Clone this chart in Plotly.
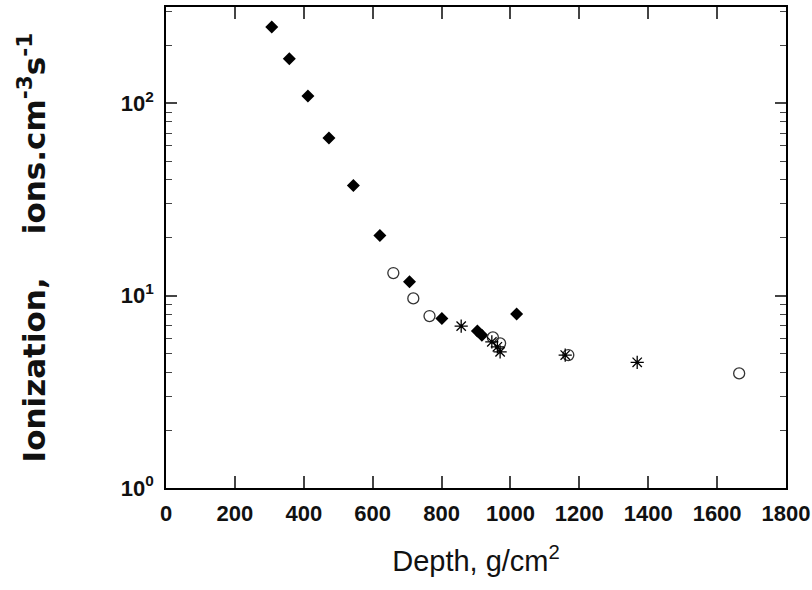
import plotly.graph_objects as go

# Filled diamonds
dia_x = [307, 358, 412, 473, 544, 621, 707, 801, 904, 917, 1018]
dia_y = [249, 170, 109, 66, 37.4, 20.5, 11.8, 7.61, 6.54, 6.23, 8.02]

# Open circles
circ_x = [660, 718, 765, 949, 970, 1168, 1664]
circ_y = [13.1, 9.67, 7.83, 6.06, 5.65, 4.91, 3.94]

# Asterisks
star_x = [857, 946, 962, 970, 1159, 1368]
star_y = [6.94, 5.75, 5.42, 5.1, 4.91, 4.50]

x_ticks = [0, 200, 400, 600, 800, 1000, 1200, 1400, 1600, 1800]
y_ticks = [1, 10, 100]
y_ticktext = ["10<sup>0</sup>", "10<sup>1</sup>", "10<sup>2</sup>"]
y_minor = [v * d for d in (1, 10, 100) for v in range(2, 10)]

fig = go.Figure()
fig.add_trace(go.Scatter(x=dia_x, y=dia_y, mode="markers",
                         marker=dict(symbol="diamond", size=10, color="black")))
fig.add_trace(go.Scatter(x=circ_x, y=circ_y, mode="markers",
                         marker=dict(symbol="circle-open", size=11, color="#333333",
                                     line=dict(width=1.3))))
fig.add_trace(go.Scatter(x=star_x, y=star_y, mode="markers",
                         marker=dict(symbol="asterisk-open", size=11, color="black",
                                     line=dict(width=1.3, color="black"))))

font_ticks = dict(family="Liberation Sans, Arial", size=22, color="#111", weight="bold")

fig.update_layout(
    width=812, height=590,
    margin=dict(l=166, r=26, t=7, b=102),
    paper_bgcolor="white", plot_bgcolor="white",
    showlegend=False,
    font=dict(family="Liberation Sans, Arial", color="#111"),
    xaxis=dict(range=[0, 1800], tickvals=x_ticks, ticks="inside", ticklen=12,
               tickwidth=1.5, showline=True, linecolor="black", linewidth=1.5,
               mirror="ticks", showgrid=False, zeroline=False, automargin=False,
               tickfont=font_ticks, ticklabelstandoff=5,
               title=dict(text="Depth, g/cm<sup>2</sup>",
                          font=dict(family="Liberation Sans, Arial", size=29, color="#111"),
                          standoff=26)),
    yaxis=dict(type="log", range=[0, 2.5], tickvals=y_ticks, ticktext=y_ticktext,
               ticks="inside", ticklen=11, tickwidth=1.5, showline=True,
               linecolor="black", linewidth=1.5, mirror="ticks", showgrid=False,
               zeroline=False, automargin=False, tickfont=font_ticks,
               ticklabelstandoff=6,
               minor=dict(tickvals=y_minor, ticks="inside", ticklen=6, tickwidth=1.2,
                          showgrid=False),
               title=dict(text="<b>Ionization,    ions.cm<sup>-3</sup>s<sup>-1</sup></b>",
                          font=dict(family="DejaVu Sans, Liberation Sans, Arial", size=31,
                                    color="#111"),
                          standoff=66)),
)

fig.write_html("out.html", config={"displayModeBar": False},
               post_script="document.body.style.margin='0px';")
